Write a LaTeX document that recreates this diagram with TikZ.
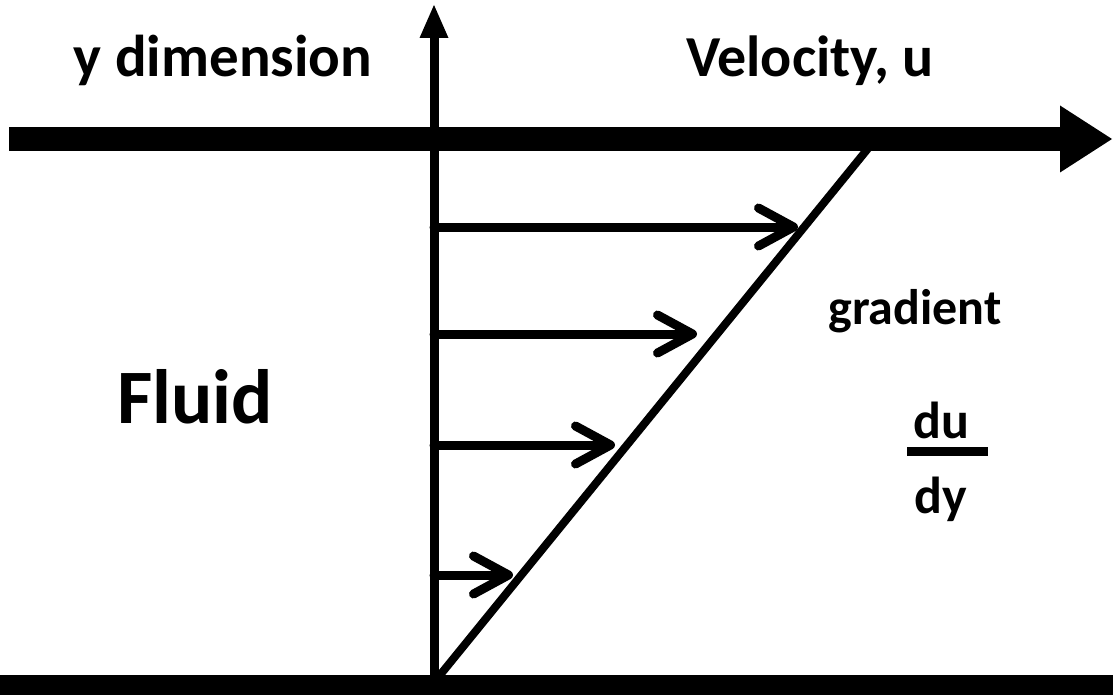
\documentclass[tikz,border=0pt]{standalone}
\usepackage{fontspec}
\setmainfont{Carlito}
\usetikzlibrary{arrows.meta,positioning}

\begin{document}
\begin{tikzpicture}[
			x=1pt, y=-1pt,
			lbl/.style={font=\bfseries\fontsize{59}{63}\selectfont, anchor=base, inner sep=0pt},
			plate/.style={line width=24pt},
			axisline/.style={line width=9pt, -{Triangle[length=33pt,width=29pt,line width=0pt]}},
			vel/.style={line width=9pt, line cap=round, -{Straight Barb[length=35pt,width=38pt,round]}},
			prof/.style={line width=8pt}
		]
		\useasboundingbox (0,0) rectangle (1113,695);

		% plates
		\coordinate (tl) at (9,139);
		\coordinate (tr) at (1112,139);
		\coordinate (bl) at (0,687);
		\coordinate (br) at (1113,687);
		\draw[plate, -{Triangle[length=52pt,width=67pt,line width=0pt]}] (tl) -- (tr);
		\draw[plate] (bl) -- (br);

		% y axis
		\coordinate (o) at (434,690);
		\coordinate (ytop) at (434,5);
		\draw[axisline] (o) -- (ytop);

		% velocity profile
		\coordinate (p0) at (436,680);
		\coordinate (p1) at (870,146);
		\draw[prof] (p0) -- (p1);

		\foreach \y/\t in {227/798, 334/697, 445/615, 575/513} {
			\coordinate (s\y) at (434,\y);
			\coordinate (e\y) at (\t,\y);
			\draw[vel] (s\y) -- (e\y);
		}

		% labels
		\node[lbl] (ydim) at (223,77) {y dimension};
		\node[lbl, font=\bfseries\fontsize{58}{62}\selectfont] (velu) at (810,77) {Velocity, u};
		\node[lbl, font=\bfseries\fontsize{77}{81}\selectfont] (fluid) at (195,423) {Fluid};
		\node[lbl, font=\bfseries\fontsize{50}{54}\selectfont] (grad) at (915,324) {gradient};
		\node[lbl, font=\bfseries\fontsize{52}{56}\selectfont] (du) at (941,438) {du};
		\node[lbl, font=\bfseries\fontsize{52}{56}\selectfont] (dy) at (941,513) {dy};
		\coordinate (fl) at (907,451);
		\coordinate (fr) at (988,451);
		\draw[line width=9pt] (fl) -- (fr);
	\end{tikzpicture}
\end{document}
